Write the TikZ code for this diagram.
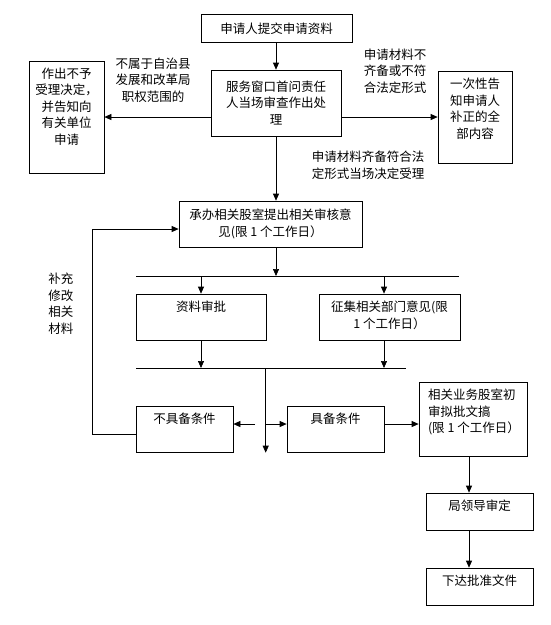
\documentclass[tikz,border=0pt]{standalone}
\usepackage{fontspec}
\newfontfamily\hanzi{Noto Sans CJK SC}
\usepackage{tikz}
\usetikzlibrary{arrows.meta, positioning, calc}

\begin{document}
\begin{tikzpicture}[x=1pt, y=-1pt, line width=0.7pt,
  font=\hanzi\fontsize{12.5}{16.5}\selectfont,
  box/.style 2 args={draw, minimum width=#1, minimum height=#2, inner sep=0pt, align=center},
  toptext/.style={label={[anchor=north, yshift=-7pt, inner sep=0pt, align=center]north:{#1}}},
  lefttext/.style={label={[anchor=north west, xshift=9pt, yshift=-7pt, inner sep=0pt, align=left]north west:{#1}}},
  note/.style={align=center, inner sep=0pt},
  arr/.style={-{Triangle[length=7pt, width=6pt]}}]
  \useasboundingbox (0,0) rectangle (550,625);

  \node[box={151}{28}] (submit) at (276.5,28.5) {申请人提交申请资料};
  \node[box={130}{66}] (window) at (276,103) {服务窗口首问责任\\人当场审查作出处\\理};
  \node[box={75}{112}, toptext={作出不予\\受理决定，\\并告知向\\有关单位\\申请}] (reject) at (66.5,117) {};
  \node[box={74}{92}, toptext={一次性告\\知申请人\\补正的全\\部内容}] (notify) at (475,117) {};
  \node[box={183}{46}] (handle) at (270.5,224) {承办相关股室提出相关审核意\\见(限 1 个工作日）};
  \node[box={130}{46}, toptext={资料审批}] (review) at (201,317) {};
  \node[box={141}{46}, toptext={征集相关部门意见(限\\1 个工作日）}] (consult) at (389.5,317) {};
  \node[box={97}{46}, toptext={不具备条件}] (fail) at (184.5,429) {};
  \node[box={97}{46}, toptext={具备条件}] (pass) at (335.5,429) {};
  \node[box={108}{74}, lefttext={相关业务股室初\\审拟批文搞\\(限 1 个工作日）}] (draft) at (473,419) {};
  \node[box={107}{37}, toptext={局领导审定}] (leader) at (479.5,511.5) {};
  \node[box={107}{37}, toptext={下达批准文件}] (issue) at (479.5,586.5) {};

  \node[note] (outscope) at (153,80) {不属于自治县\\发展和改革局\\职权范围的};
  \node[note] (incomplete) at (395,71) {申请材料不\\齐备或不符\\合法定形式};
  \node[note] (complete) at (368,165.5) {申请材料齐备符合法\\定形式当场决定受理};
  \node[note] (supply) at (61,303.5) {补充\\修改\\相关\\材料};

  \coordinate (bus1w) at (136,276);
  \coordinate (bus1e) at (459,276);
  \coordinate (bus2w) at (136,368);
  \coordinate (bus2e) at (406,368);
  \coordinate (rcol) at (384,276);
  \coordinate (split) at (265.7,368);
  \coordinate (splitend) at (265.7,452.7);
  \coordinate (midrow) at (0,424);
  \coordinate (stub) at (255,424);
  \coordinate (lcol) at (469,0);

  \draw[arr] (submit.south -| window.north) -- (window.north);
  \draw[arr] (window.west |- reject.east) -- (reject.east);
  \draw[arr] (window.east |- notify.west) -- (notify.west);
  \draw[arr] (window.south) -- (window.south |- handle.north);
  \draw[arr] (handle.south -| window.south) -- (window.south |- bus1w);
  \draw (bus1w) -- (bus1e);
  \draw[arr] (bus1w -| review.north) -- (review.north);
  \draw[arr] (rcol) -- (rcol |- consult.north);
  \draw[arr] (review.south) -- (review.south |- bus2w);
  \draw[arr] (rcol |- consult.south) -- (rcol |- bus2w);
  \draw (bus2w) -- (bus2e);
  \draw[arr] (split) -- (splitend);
  \draw[arr] (stub) -- (fail.east |- stub);
  \draw[arr] (split |- midrow) -- (pass.west |- midrow);
  \draw[arr] (pass.east |- midrow) -- (draft.west |- midrow);
  \draw[arr] ($(fail.west)+(0,5)$) -- ++(-43,0) |- ($(handle.west)+(0,5)$);
  \draw[arr] (draft.south -| lcol) -- (leader.north -| lcol);
  \draw[arr] (leader.south -| lcol) -- (issue.north -| lcol);
\end{tikzpicture}
\end{document}
